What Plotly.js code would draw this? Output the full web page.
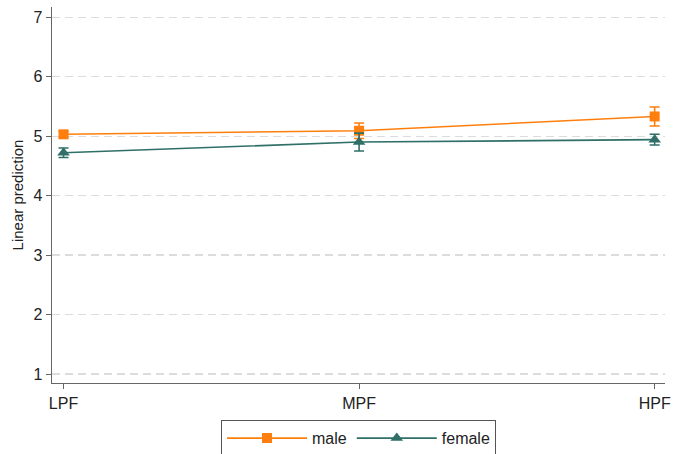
<!DOCTYPE html>
<html>
<head>
<meta charset="utf-8">
<script src="https://cdn.plot.ly/plotly-3.0.1.min.js"></script>
<style>html,body{margin:0;padding:0;background:#fff;}#chart{width:673px;height:454px;}</style>
</head>
<body>
<div id="chart"></div>
<script>
var categories = ["LPF", "MPF", "HPF"];
var maleValues = [5.03, 5.09, 5.33];
var maleErr = [0.05, 0.13, 0.16];
var femaleValues = [4.72, 4.90, 4.94];
var femaleErr = [0.08, 0.15, 0.09];
var yTicks = [1, 2, 3, 4, 5, 6, 7];

var xIdx = categories.map(function (c, i) { return i; });

var traces = [
  {
    x: xIdx, y: maleValues, name: "male", type: "scatter", mode: "lines+markers",
    line: {color: "#ff7f0e", width: 1.6},
    marker: {symbol: "square", size: 10, color: "#ff7f0e"},
    error_y: {type: "data", array: maleErr, visible: true, color: "#ff7f0e", thickness: 1.6, width: 5}
  },
  {
    x: xIdx, y: femaleValues, name: "female", type: "scatter", mode: "lines+markers",
    line: {color: "#2f6f68", width: 1.6},
    marker: {symbol: "triangle-up", size: 11, color: "#2f6f68"},
    error_y: {type: "data", array: femaleErr, visible: true, color: "#2f6f68", thickness: 1.6, width: 5}
  }
];

var layout = {
  width: 673, height: 454,
  margin: {l: 52, r: 8, t: 7, b: 71, autoexpand: false},
  paper_bgcolor: "#ffffff", plot_bgcolor: "#ffffff",
  font: {family: "Liberation Sans, Arial, sans-serif", size: 16, color: "#222"},
  xaxis: {
    range: [-0.039, 2.035], tickmode: "array", tickvals: xIdx, ticktext: categories,
    showgrid: false, zeroline: false, showline: true, linecolor: "#666", linewidth: 1.3,
    ticks: "outside", ticklen: 5, tickcolor: "#666", tickfont: {size: 16, color: "#222"}
  },
  yaxis: {
    range: [0.85, 7.17], tickmode: "array", tickvals: yTicks,
    showgrid: true, gridcolor: "#dcdcdc", griddash: "8px,5px", gridwidth: 1.2,
    zeroline: false, showline: true, linecolor: "#666", linewidth: 1.3,
    ticks: "outside", ticklen: 5, tickcolor: "#666", tickfont: {size: 16, color: "#222"},
    title: {text: "Linear prediction", font: {size: 15, color: "#222"}, standoff: 6}
  },
  showlegend: true,
  legend: {
    orientation: "h", x: 0.5, xanchor: "center", y: -0.099, yanchor: "top",
    bordercolor: "#555", borderwidth: 1, font: {size: 16, color: "#222"},
    itemwidth: 80
  }
};

Plotly.newPlot("chart", traces, layout, {displayModeBar: false, staticPlot: true});
</script>
</body>
</html>
